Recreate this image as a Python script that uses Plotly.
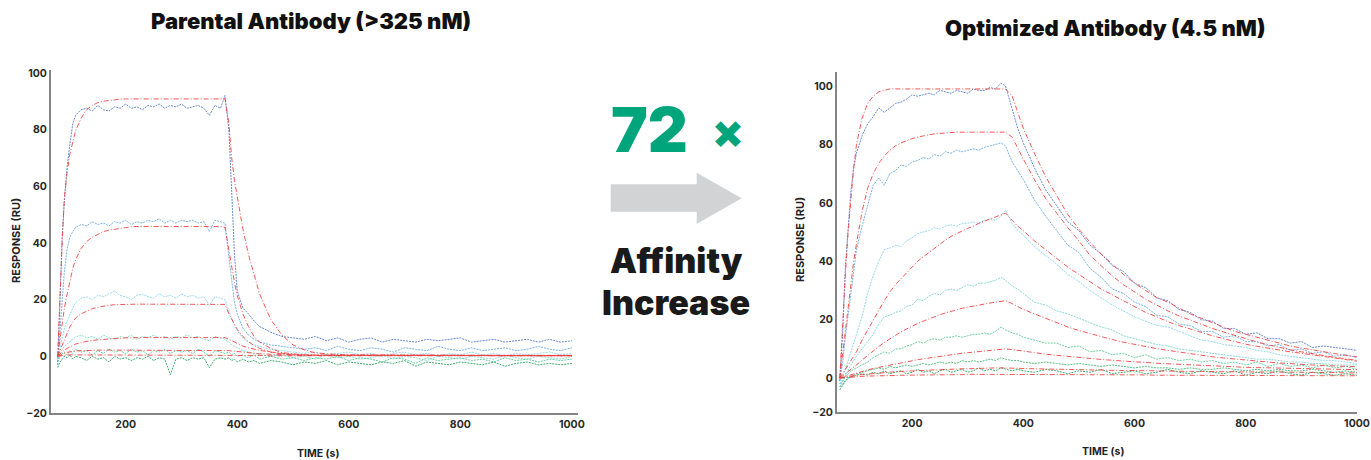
import plotly.graph_objects as go

# ---------------- Data: left panel (Parental antibody) ----------------
T_LEFT = [78, 82, 86, 90, 95, 100, 105, 110,
          120, 130, 140, 150, 160, 170, 180, 190, 200, 210, 220, 230, 240, 250, 260,
          270, 280, 290, 300, 310, 320, 330, 340, 350, 360, 370,
          378, 385, 390, 395, 400, 410, 420, 430, 440,
          460, 480, 500, 520, 540, 560, 580, 600, 620, 640, 660, 680, 700, 720, 740,
          760, 780, 800, 820, 840, 860, 880, 900, 920, 940, 960, 980, 1000]

L_DATA_1 = [-3, 20, 42, 55, 67, 75, 82, 85,
            87, 87.5, 86.5, 88.5, 87, 86.5, 88, 87.5, 89, 87.5, 88, 87, 88.5, 88, 89,
            87.5, 88.5, 88, 89, 87.5, 88, 88.5, 87.5, 85, 88.5, 87.5,
            92, 80, 58, 36, 23, 17, 15, 12.5, 10.5,
            8.5, 7, 6.5, 6, 7, 5.5, 6.5, 5, 6, 6.5, 5, 6, 5.5, 5, 6,
            5.5, 6, 6.5, 5, 5.5, 6, 5, 5.5, 6, 5, 6, 5, 5.5]
L_FIT_1 = [0, 22, 40, 56, 65, 71.5, 76, 79.5,
           84, 87, 88.5, 89.5, 90, 90.3, 90.5, 90.7, 90.8, 90.8, 90.8, 90.8, 90.8, 90.8, 90.8,
           90.8, 90.8, 90.8, 90.8, 90.8, 90.8, 90.8, 90.8, 90.8, 90.8, 90.8,
           90.8, 82, 70, 62, 56, 45, 36, 28.5, 22,
           13, 7.5, 4, 2.3, 1.2, 0.8, 0.6, 0.5, 0.5, 0.5, 0.4, 0.4, 0.4, 0.4, 0.3,
           0.3, 0.3, 0.3, 0.3, 0.3, 0.2, 0.2, 0.2, 0.2, 0.2, 0.2, 0.2, 0.2]
L_DATA_2 = [-2, 8, 20, 30, 38, 42, 44, 45.5,
            46.5, 46, 47.5, 46.5, 47, 46, 47.5, 47, 48, 46.5, 47.5, 47, 48, 47.5, 48.5,
            47, 48, 47, 48, 47.5, 48, 47, 47.5, 44, 48, 47.5,
            47, 35, 26, 19, 15, 10, 7.5, 6, 5,
            4, 3.5, 3, 2.5, 3, 2, 3.5, 2.5, 2, 3, 2.5, 1.5, 3, 2.5, 2,
            3.5, 2.5, 2, 3, 2, 2.5, 3, 2, 2.5, 3.5, 2.5, 2, 3]
L_FIT_2 = [0, 6, 12, 17, 22, 27, 31, 34,
           38, 40.5, 42, 43, 44, 44.5, 44.8, 45.2, 45.5, 45.7, 45.8, 45.8, 45.8, 45.8, 45.8,
           45.8, 45.8, 45.8, 45.8, 45.8, 45.8, 45.8, 45.8, 45.8, 45.8, 45.8,
           45.5, 37, 31, 26, 21.5, 15, 10.5, 7, 5,
           2.8, 1.3, 0.8, 0.5, 0.4, 0.4, 0.3, 0.3, 0.3, 0.3, 0.2, 0.2, 0.2, 0.2, 0.2,
           0.2, 0.2, 0.2, 0.2, 0.2, 0.2, 0.2, 0.2, 0.2, 0.2, 0.2, 0.2, 0.2]
L_DATA_3 = [-1, 3, 7, 10, 12.5, 15, 17, 19,
            20.5, 21, 20, 21.5, 21, 22, 23, 21.5, 21, 20, 21.5, 22, 21, 20.5, 22,
            21, 21.5, 20.5, 22, 21, 21.5, 20.5, 21, 18, 21, 20.5,
            20, 16, 13, 11, 9, 6.5, 5, 4, 3.5,
            2.5, 2, 1.5, 1, 1.5, 0.5, 1, 1.5, 0.5, 1, 0, 1, 1.5, 0.5, 1,
            0, 1, 0.5, 1.5, 0.5, 1, 0, 1, 0.5, 1, 1.5, 0.5, 1]
L_FIT_3 = [0, 2, 4, 6, 8.5, 10.5, 12, 13.5,
           15, 16, 16.8, 17.3, 17.7, 18, 18.2, 18.3, 18.4, 18.4, 18.4, 18.4, 18.4, 18.4, 18.4,
           18.4, 18.4, 18.4, 18.4, 18.4, 18.4, 18.4, 18.4, 18.4, 18.4, 18.4,
           18.3, 15, 13, 11, 9.5, 7, 5.2, 3.8, 2.8,
           1.5, 0.8, 0.5, 0.3, 0.3, 0.3, 0.3, 0.3, 0.3, 0.3, 0.3, 0.3, 0.3, 0.3, 0.3,
           0.3, 0.3, 0.3, 0.3, 0.3, 0.3, 0.3, 0.3, 0.3, 0.3, 0.3, 0.3, 0.3]
L_DATA_4 = [-1, 1, 2.5, 3.5, 4.5, 5.2, 6, 6.8,
            7.5, 6.5, 7, 6, 7.5, 6.5, 6, 7, 6.5, 7.5, 6, 7, 6.5, 7.5, 6.5,
            7, 6, 7, 6.5, 7.5, 6.5, 7, 6, 5.5, 7, 6.5,
            6, 5, 4, 3.5, 3, 2, 1.5, 1, 0.5,
            0, 0.5, -0.5, 0, -1, 0.5, -0.5, 0, -1, -0.5, 0.5, -1, 0, -0.5, -1.5,
            0, -0.5, -1, 0, -0.5, -1, 0.5, -0.5, -1, 0, -0.5, -1, 0]
L_FIT_4 = [0, 0.8, 1.6, 2.2, 2.8, 3.4, 3.9, 4.3,
           4.9, 5.3, 5.6, 5.8, 6, 6.2, 6.3, 6.4, 6.5, 6.6, 6.6, 6.6, 6.6, 6.6, 6.6,
           6.6, 6.6, 6.6, 6.6, 6.6, 6.6, 6.6, 6.6, 6.6, 6.6, 6.6,
           6.6, 6, 5.5, 5, 4.5, 3.6, 3, 2.5, 2.1,
           1.5, 1, 0.7, 0.5, 0.4, 0.4, 0.4, 0.4, 0.4, 0.4, 0.4, 0.4, 0.3, 0.3, 0.3,
           0.3, 0.3, 0.3, 0.3, 0.3, 0.3, 0.3, 0.3, 0.3, 0.3, 0.3, 0.3, 0.3]
L_DATA_5 = [-2, 0, 1, 1.5, 0.5, 2, 1, 2.5,
            1.5, 2, 0.5, 2, 1, 2.5, 1.5, 2, 1, 2.5, 1.5, 2, 0.5, 2, 1.5,
            2.5, 1, 2, 1.5, 2, 1, 2.5, 1.5, 0, 2, 1.5,
            1, 1.5, 0.5, 1, 0, 0.5, -0.5, 0.5, -1,
            0, -1, -0.5, -1.5, -0.5, -1, 0, -1.5, -0.5, -1, -2, -0.5, -1, -2.5, -0.5,
            -1.5, -1, -0.5, -1.5, -1, -2, -0.5, -1.5, -1, -2, -1, -1.5, -1]
L_FIT_5 = [0, 0.4, 0.8, 1.1, 1.4, 1.6, 1.8, 1.9,
           2, 2.1, 2.2, 2.2, 2.2, 2.2, 2.2, 2.2, 2.2, 2.2, 2.2, 2.2, 2.2, 2.2, 2.2,
           2.2, 2.2, 2.2, 2.2, 2.2, 2.2, 2.2, 2.2, 2.2, 2.2, 2.2,
           2.2, 2, 1.9, 1.8, 1.6, 1.4, 1.2, 1, 0.9,
           0.7, 0.5, 0.4, 0.3, 0.3, 0.3, 0.3, 0.3, 0.3, 0.3, 0.3, 0.3, 0.3, 0.3, 0.3,
           0.3, 0.3, 0.3, 0.3, 0.3, 0.3, 0.3, 0.3, 0.3, 0.3, 0.3, 0.3, 0.3]
L_DATA_6 = [-4, -2, -1, 0, -0.5, 0.5, -1, 0,
            -0.5, -1.5, 0, -1, -0.5, -2, 0, -1, -0.5, -1.5, -0.5, -1, 0, -1.5, -0.5,
            -1, -6.5, -1, -0.5, -1.5, -0.5, -1, -0.5, -4, -1, -0.5,
            -1, -0.5, -1.5, -1, -2, -1, -2, -1.5, -2.5,
            -1.5, -2, -3, -2, -2.5, -1.5, -3, -2, -2.5, -3, -2, -2.5, -1.5, -3.5, -2,
            -2.5, -3, -2, -2.5, -3, -2, -3.5, -2.5, -2, -3, -2.5, -3, -2.5]
L_FIT_6 = [0, 0.2, 0.3, 0.4, 0.5, 0.5, 0.5, 0.5,
           0.5, 0.5, 0.5, 0.5, 0.5, 0.5, 0.5, 0.5, 0.5, 0.5, 0.5, 0.5, 0.5, 0.5, 0.5,
           0.5, 0.5, 0.5, 0.5, 0.5, 0.5, 0.5, 0.5, 0.5, 0.5, 0.5,
           0.5, 0.5, 0.5, 0.4, 0.4, 0.4, 0.3, 0.3, 0.3,
           0.2, 0.2, 0.2, 0.2, 0.2, 0.2, 0.2, 0.2, 0.2, 0.2, 0.2, 0.2, 0.2, 0.2, 0.2,
           0.2, 0.2, 0.2, 0.2, 0.2, 0.2, 0.2, 0.2, 0.2, 0.2, 0.2, 0.2, 0.2]

# ---------------- Data: right panel (Optimized antibody) ----------------
T_RIGHT = [70, 75, 80, 85, 90, 95, 100,
           110, 120, 130, 140, 150, 160, 170, 180, 190, 200, 210, 220, 230, 240, 250,
           260, 270, 280, 290, 300, 310, 320, 330, 340, 350, 360,
           368, 380, 390, 400,
           420, 440, 460, 480, 500, 520, 540, 560, 580, 600, 620, 640, 660, 680, 700,
           720, 740, 760, 780, 800, 820, 840, 860, 880, 900, 920, 940, 960, 980, 1000]

R_DATA_1 = [-1, 15, 38, 52, 64, 72, 77,
            83, 87, 89.5, 92.5, 91, 92.5, 94, 94.5, 95.5, 97, 96.5, 97, 97.5, 97, 98.5,
            98, 97.5, 98.5, 98, 97.5, 99, 98.5, 98.5, 99.5, 99, 101,
            100, 92, 85.5, 80.5,
            72, 64.5, 59, 53.5, 50.5, 45.5, 42.5, 38.5, 36.5, 32.5, 31, 27.5, 26.5, 23.5, 22.5,
            20, 19.5, 17, 17, 15, 15.5, 13.5, 13.5, 12, 12.5, 10.5, 11, 10.5, 10, 9.5]
R_FIT_1 = [0, 20, 35, 50, 62, 72, 80,
           89, 94, 96.5, 98, 98.5, 99, 99, 99, 99, 99, 99, 99, 99, 99, 99,
           99, 99, 99, 99, 99, 99, 99, 99, 99, 99, 99,
           99, 96.5, 91, 85.5,
           77, 69, 62.5, 56, 51, 46.5, 42.5, 39, 35.5, 32.5, 30, 27.5, 26, 24, 22,
           20.5, 19, 17.5, 16, 15, 14, 13, 12, 11, 10.3, 9.6, 9, 8.4, 7.8, 7.3]
R_DATA_2 = [-1, 5, 14, 22, 30, 38, 44,
            52, 59, 66, 68.5, 66, 70, 71, 73, 72.5, 74, 74.5, 75.5, 75, 76.5, 76,
            77.5, 77, 78, 77.5, 78, 78.5, 78, 79, 79.5, 80, 80.5,
            79.5, 74, 71, 68,
            61, 55.5, 50.5, 45.5, 43, 37.5, 34.5, 30.5, 29, 26, 24.5, 21.5, 21, 18.5, 18,
            16, 16, 14, 14.5, 12.5, 12.5, 11, 11.5, 9.5, 10, 8.5, 9, 7.5, 8, 7]
R_FIT_2 = [0, 8, 17, 26, 33, 40, 46,
           57, 65, 70, 73.5, 76, 78, 79.5, 80.5, 81.3, 82, 82.5, 83, 83.3, 83.6, 83.8,
           84, 84.2, 84.2, 84.2, 84.2, 84.2, 84.2, 84.2, 84.2, 84.2, 84.2,
           84.2, 82.5, 78.5, 75,
           68, 61.5, 56.5, 51.5, 47, 42, 38.5, 35, 32, 29.5, 27, 25, 23, 21.3, 19.8,
           18.4, 17, 15.8, 14.6, 13.5, 12.4, 11.4, 10.5, 9.7, 9, 8.3, 7.7, 7.1, 6.6, 6.1]
R_DATA_3 = [-2, 0, 3, 6, 9, 12, 15,
            21, 29, 35, 40, 44, 44.5, 45.5, 45, 47, 48, 49.5, 50, 50.5, 51.5, 51,
            52, 52.5, 52, 53, 53, 53.5, 53, 54, 54.5, 54, 55.5,
            57.5, 53, 50.5, 49,
            45, 42, 39, 35.5, 33, 30, 27.5, 25, 23, 21, 19.5, 18, 17.5, 16, 14.5,
            13, 12.5, 11.5, 11, 10.5, 9.5, 9, 8, 7.5, 7, 6.5, 6, 6, 5.5, 5]
R_FIT_3 = [0, 1.5, 3, 4.5, 6, 7.5, 9,
           13, 16.5, 20, 23.5, 26.5, 29.5, 32, 34, 36, 38, 40, 41.5, 43, 44.5, 46,
           47.3, 48.5, 49.5, 50.5, 51.3, 52, 53, 53.7, 54.5, 55.3, 56,
           56.5, 54, 52, 50.5,
           47, 44, 41, 38, 35.5, 33, 30.5, 28.5, 26.5, 24.5, 22.5, 21, 19.3, 18, 16.8,
           15.5, 14.5, 13.5, 12.5, 11.6, 10.9, 10.2, 9.6, 9, 8.5, 8, 7.4, 6.8, 6.3, 5.8]
R_DATA_4 = [-3, -1, 1, 3, 4.5, 6, 7.5,
            10, 12.5, 15, 18.5, 21, 21.5, 22.5, 23, 24.5, 25, 27, 26.5, 28, 29, 28.5,
            30, 30.5, 30, 31, 32, 31.5, 32.5, 32.5, 33, 33.5, 34.5,
            33.5, 31.5, 30.5, 29,
            26, 25, 23, 22, 20.5, 19, 17.5, 16.5, 14.5, 13.5, 12.5, 11.5, 11, 10, 9.5,
            9, 8.5, 8, 7.5, 7, 6.5, 6.5, 6, 5.5, 5.5, 5, 5, 4.5, 4.5, 4.5]
R_FIT_4 = [0, 0.7, 1.5, 2.2, 3, 3.8, 4.5,
           6.2, 7.8, 9.3, 10.8, 12.2, 13.5, 14.7, 15.8, 16.8, 17.8, 18.7, 19.5, 20.3, 21, 21.7,
           22.3, 22.9, 23.4, 23.9, 24.3, 24.7, 25.1, 25.4, 25.7, 26, 26.3,
           26.5, 25.5, 24.5, 23.5,
           22, 20.5, 19, 17.5, 16.3, 15.2, 14.2, 13.2, 12.3, 11.5, 10.8, 10.1, 9.5, 8.9, 8.3,
           7.8, 7.3, 6.9, 6.5, 6.1, 5.8, 5.5, 5.2, 4.9, 4.7, 4.5, 4.3, 4.1, 4, 3.9]
R_DATA_5 = [-2, -1, 0.5, 1.5, 2.5, 3, 3.5,
            4.5, 5.5, 7, 8, 9, 8.5, 10, 10, 11, 11.5, 12.5, 12, 13, 13.5, 13,
            14, 14, 14.5, 14, 14.5, 15, 15, 15.5, 15, 16, 17.5,
            16.5, 15.5, 15, 14,
            13, 12, 12, 10.5, 11, 9, 9.5, 8, 8.5, 7, 8, 6.5, 7, 6, 6.5,
            5.5, 6, 5, 5.5, 4.5, 5.5, 4, 5, 4, 4.5, 3.5, 4.5, 3.5, 4, 3]
R_FIT_5 = [0, 0.3, 0.6, 0.9, 1.2, 1.5, 1.8,
           2.3, 2.8, 3.3, 3.7, 4.1, 4.5, 4.9, 5.3, 5.6, 6, 6.3, 6.6, 6.9, 7.2, 7.5,
           7.8, 8, 8.3, 8.5, 8.7, 8.9, 9.1, 9.3, 9.5, 9.7, 9.9,
           10, 9.8, 9.5, 9.2,
           8.7, 8.2, 7.8, 7.4, 7, 6.7, 6.4, 6.1, 5.8, 5.5, 5.3, 5.1, 4.9, 4.7, 4.5,
           4.3, 4.1, 4, 3.8, 3.7, 3.6, 3.5, 3.4, 3.3, 3.2, 3.1, 3, 3, 2.9, 2.9]
R_DATA_6 = [-3, -2, -1, 0, 0.5, 1, 1.5,
            2, 2.5, 3, 3.5, 3, 4, 3.5, 4, 4.5, 4, 4.5, 5, 4.5, 5, 5.5,
            5, 5.5, 5, 6, 5.5, 6, 5.5, 6, 6.5, 6, 7,
            6.5, 6, 6, 5.5,
            5, 5.5, 5, 4.5, 5, 4.5, 4, 4.5, 4, 3.5, 4, 3.5, 3.5, 3, 3.5,
            3, 3, 3.5, 3, 2.5, 3, 2.5, 3, 2.5, 2.5, 3, 2.5, 2, 2.5, 2]
R_FIT_6 = [0, 0.2, 0.4, 0.6, 0.8, 0.9, 1,
           1.2, 1.4, 1.6, 1.8, 1.9, 2.1, 2.2, 2.3, 2.4, 2.5, 2.6, 2.7, 2.8, 2.9, 3,
           3, 3.1, 3.1, 3.2, 3.2, 3.3, 3.3, 3.4, 3.4, 3.5, 3.5,
           3.5, 3.4, 3.4, 3.3,
           3.2, 3.1, 3, 2.9, 2.9, 2.8, 2.7, 2.7, 2.6, 2.6, 2.5, 2.5, 2.4, 2.4, 2.3,
           2.3, 2.2, 2.2, 2.2, 2.1, 2.1, 2.1, 2, 2, 2, 1.9, 1.9, 1.9, 1.8, 1.8]
R_DATA_7 = [-4, -2.5, -1, 0, 0.5, 0.5, 1,
            1.5, 1, 2, 1.5, 2.5, 1.5, 2, 2.5, 1.5, 2, 3, 2, 2.5, 1.5, 2.5,
            3, 2, 2.5, 3, 2, 2.5, 3.5, 2.5, 3, 2.5, 3.5,
            3, 2.5, 3, 2.5,
            2, 3, 2.5, 1.5, 2.5, 2, 3, 1.5, 2, 2.5, 1.5, 2, 3, 2, 1.5,
            2.5, 2, 1.5, 2.5, 1, 2, 1.5, 2.5, 1.5, 1, 2, 1.5, 1, 1.5, 1]
R_FIT_7 = [0, 0.1, 0.2, 0.3, 0.4, 0.4, 0.5,
           0.6, 0.7, 0.7, 0.8, 0.8, 0.9, 0.9, 1, 1, 1, 1.1, 1.1, 1.1, 1.1, 1.2,
           1.2, 1.2, 1.2, 1.2, 1.3, 1.3, 1.3, 1.3, 1.3, 1.3, 1.3,
           1.3, 1.3, 1.3, 1.3,
           1.3, 1.3, 1.2, 1.2, 1.2, 1.2, 1.1, 1.1, 1.1, 1.1, 1.1, 1, 1, 1, 1,
           1, 1, 0.9, 0.9, 0.9, 0.9, 0.9, 0.9, 0.9, 0.8, 0.8, 0.8, 0.8, 0.8, 0.8]

X_TICKS = [200, 400, 600, 800, 1000]
Y_TICKS_LEFT = [-20, 0, 20, 40, 60, 80, 100]
Y_TICKS_RIGHT = [-11.6, 0, 20, 40, 60, 80, 100]
Y_TICKTEXT_RIGHT = ["\u221220", "0", "20", "40", "60", "80", "100"]

TITLE_LEFT = "Parental Antibody (>325 nM)"
TITLE_RIGHT = "Optimized Antibody (4.5 nM)"
FOLD_TEXT = "72"

# ---------------- Styling ----------------
# The page body margin is removed by a post-script, so the figure fills the window
# and every layout position below is given in window pixels.
W, H = 1371, 460
FONT = "Inter, Lato, 'DejaVu Sans', sans-serif"
DATA_COLORS_LEFT = ["#4B74C9", "#5EA6E2", "#83D3EE", "#7DD6C6", "#4DC48E", "#1F9E57"]
DATA_COLORS_RIGHT = ["#4B74C9", "#5EA6E2", "#7FD2EE", "#74D2CB", "#52C693", "#37B46D", "#1F9E57"]
FIT_COLOR = "#F23A3A"
DATA_DASH = "2px,1px"
FIT_DASH = "5px,2px,1px,2px"

left_data = [L_DATA_1, L_DATA_2, L_DATA_3, L_DATA_4, L_DATA_5, L_DATA_6]
left_fit = [L_FIT_1, L_FIT_2, L_FIT_3, L_FIT_4, L_FIT_5, L_FIT_6]
right_data = [R_DATA_1, R_DATA_2, R_DATA_3, R_DATA_4, R_DATA_5, R_DATA_6, R_DATA_7]
right_fit = [R_FIT_1, R_FIT_2, R_FIT_3, R_FIT_4, R_FIT_5, R_FIT_6, R_FIT_7]

for s in left_data + left_fit:
    assert len(s) == len(T_LEFT), len(s)
for s in right_data + right_fit:
    assert len(s) == len(T_RIGHT), len(s)

fig = go.Figure()


def add_line(x, y, color, dash, xa, ya, width=1.0, opacity=0.85):
    fig.add_trace(go.Scatter(x=x, y=y, mode="lines", opacity=opacity,
                             line=dict(color=color, width=width, dash=dash),
                             xaxis=xa, yaxis=ya, showlegend=False, hoverinfo="skip"))


for ys, c in zip(left_data, DATA_COLORS_LEFT):
    add_line(T_LEFT, ys, c, DATA_DASH, "x", "y")
for ys in left_fit:
    add_line(T_LEFT, ys, FIT_COLOR, FIT_DASH, "x", "y")
for ys, c in zip(right_data, DATA_COLORS_RIGHT):
    add_line(T_RIGHT, ys, c, DATA_DASH, "x2", "y2")
for ys in right_fit:
    add_line(T_RIGHT, ys, FIT_COLOR, FIT_DASH, "x2", "y2")

tickfont = dict(family=FONT, size=10.5, color="#2a2a2a", weight=700)
axis_common = dict(showline=True, linecolor="#858585", linewidth=2, ticks="",
                   showgrid=False, zeroline=False, tickfont=tickfont,
                   fixedrange=True, automargin=False, ticklabeloverflow="allow")


def px_x(v):
    return v / W


def px_y(v):
    return 1 - v / H


fig.update_layout(
    width=W, height=H,
    margin=dict(l=0, r=0, t=0, b=0),
    paper_bgcolor="white", plot_bgcolor="white",
    xaxis=dict(domain=[px_x(51), px_x(578)], range=[66, 1011], anchor="y",
               tickvals=X_TICKS, **axis_common),
    yaxis=dict(domain=[px_y(413), px_y(70)], range=[-20, 101], anchor="x",
               tickvals=Y_TICKS_LEFT, **axis_common),
    xaxis2=dict(domain=[px_x(837), px_x(1357)], range=[65, 1000], anchor="y2",
                tickvals=X_TICKS, **axis_common),
    yaxis2=dict(domain=[px_y(412), px_y(72)], range=[-11.6, 104.8], anchor="x2",
                tickvals=Y_TICKS_RIGHT, ticktext=Y_TICKTEXT_RIGHT, **axis_common),
)

annots = []


def label(text, x, y, size, color="#111111", weight=800, angle=0):
    annots.append(dict(text=text, x=px_x(x), y=px_y(y), xref="paper", yref="paper",
                       xanchor="center", yanchor="middle", showarrow=False,
                       textangle=angle,
                       font=dict(family=FONT, size=size, color=color, weight=weight)))


label(TITLE_LEFT, 311, 21, 22, weight=900)
label(TITLE_RIGHT, 1105, 28, 22, weight=900)
label("RESPONSE (RU)", 16, 241, 11, color="#222222", weight=700, angle=-90)
label("RESPONSE (RU)", 800, 240, 11, color="#222222", weight=700, angle=-90)
label("TIME (s)", 318, 453, 10.5, color="#222222", weight=700)
label("TIME (s)", 1103, 451, 10.5, color="#222222", weight=700)
label(FOLD_TEXT, 649, 130, 62, color="#00A57C", weight=900)
label("\u00d7", 728, 131, 46, color="#00A57C", weight=900)
label("Affinity", 676, 260, 34, color="#1a1a1a", weight=900)
label("Increase", 676, 302, 34, color="#1a1a1a", weight=900)
fig.update_layout(annotations=annots)

# Arrow (decoration)
pts = [(610.7, 184.3), (696.7, 184.3), (696.7, 172.7), (741.7, 198.3),
       (696.7, 224), (696.7, 211.7), (610.7, 211.7)]
path = "M " + " L ".join(f"{px_x(a):.5f},{px_y(b):.5f}" for a, b in pts) + " Z"
fig.add_shape(type="path", path=path, xref="paper", yref="paper",
              fillcolor="#D1D3D4", line=dict(width=0))

fig.write_html("out.html",
               config={"displayModeBar": False, "staticPlot": True},
               post_script="document.body.style.margin='0';"
                           "document.body.style.overflow='hidden';")
